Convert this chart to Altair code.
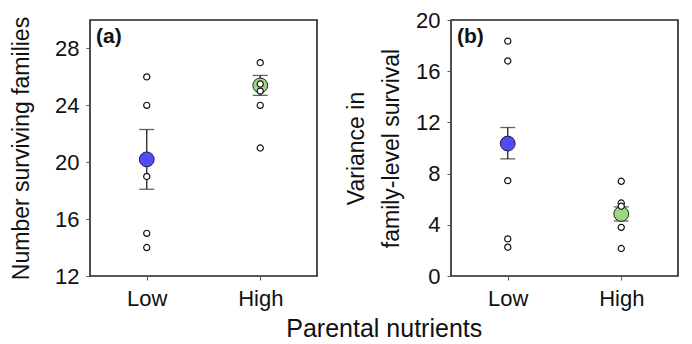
import altair as alt
import pandas as pd

groups = ["Low", "High"]

# Panel (a): number of surviving families
a_low_pts = [26, 24, 19, 15, 14]
a_high_pts = [27, 25.5, 25, 24, 21]
a_mean = [20.2, 25.4]
a_lo = [18.1, 24.7]
a_hi = [22.3, 26.1]

# Panel (b): variance in family-level survival
b_low_pts = [18.35, 16.8, 7.45, 2.9, 2.25]
b_high_pts = [7.4, 5.7, 5.45, 3.8, 2.15]
b_mean = [10.35, 4.85]
b_lo = [9.15, 4.3]
b_hi = [11.6, 5.4]

colors = ["#4d4dff", "#9bd681"]

FONT = "Liberation Sans"
W, H = 227, 256


def panel(low_pts, high_pts, mean, lo, hi, domain, ticks, ytitle, tag, title_pad, line_h):
    pts = pd.DataFrame({
        "g": ["Low"] * len(low_pts) + ["High"] * len(high_pts),
        "v": low_pts + high_pts,
    })
    summ = pd.DataFrame({"g": groups, "m": mean, "lo": lo, "hi": hi, "c": colors})
    xenc = alt.X("g:N", sort=groups, title=None,
                 scale=alt.Scale(type="point", padding=0.5),
                 axis=alt.Axis(labelAngle=0, labelFontSize=22, labelFont=FONT,
                               labelColor="#111", tickSize=4, tickColor="#555",
                               domain=False, labelPadding=8))
    yscale = alt.Scale(domain=domain, nice=False, zero=False)
    yaxis = alt.Axis(values=ticks, grid=False, domain=False, tickSize=4, tickColor="#555",
                     labelFontSize=22, labelFont=FONT, labelColor="#111", labelPadding=7,
                     title=ytitle, titleFontSize=23, titleFont=FONT, titleFontWeight="normal",
                     titleColor="#111", titlePadding=title_pad, titleLineHeight=line_h)
    base_s = alt.Chart(summ)
    rule = base_s.mark_rule(color="#222", strokeWidth=1.3).encode(
        x=xenc, y=alt.Y("lo:Q", scale=yscale, axis=yaxis), y2="hi:Q")
    cap_lo = base_s.mark_tick(color="#222", size=15, thickness=1.3).encode(
        x=alt.X("g:N", sort=groups), y=alt.Y("lo:Q"))
    cap_hi = base_s.mark_tick(color="#222", size=15, thickness=1.3).encode(
        x=alt.X("g:N", sort=groups), y=alt.Y("hi:Q"))
    mean_pt = base_s.mark_point(filled=True, size=220, stroke="#222", strokeWidth=1,
                                opacity=1).encode(
        x=alt.X("g:N", sort=groups), y=alt.Y("m:Q"),
        fill=alt.Fill("c:N", scale=None))
    small = alt.Chart(pts).mark_point(shape="circle", size=38, fill="white", stroke="#111",
                                      strokeWidth=1.2, opacity=1, filled=False).encode(
        x=alt.X("g:N", sort=groups), y=alt.Y("v:Q"))
    label = alt.Chart(pd.DataFrame({"t": [tag]})).mark_text(
        font=FONT, fontSize=21, fontWeight="bold", align="left", baseline="middle",
        color="#111").encode(x=alt.value(6), y=alt.value(17), text="t:N")
    return alt.layer(rule, cap_lo, cap_hi, mean_pt, small, label).properties(width=W, height=H)


pa = panel(a_low_pts, a_high_pts, a_mean, a_lo, a_hi, [12, 30], [12, 16, 20, 24, 28],
           "Number surviving families", "(a)", 21, 28)
pb = panel(b_low_pts, b_high_pts, b_mean, b_lo, b_hi, [0, 20], [0, 4, 8, 12, 16, 20],
           ["Variance in", "family-level survival"], "(b)", 12, 35)

chart = alt.hconcat(pa, pb, spacing=26).properties(
    title=alt.TitleParams("Parental nutrients", orient="bottom", anchor="middle",
                          fontSize=25, font=FONT, fontWeight="normal", color="#111",
                          offset=7, dx=40),
    padding={"left": 1, "top": 0, "right": 0, "bottom": 0},
    background="white",
).configure_view(stroke="#222", strokeWidth=1.6)

chart.save("out.html", embed_options={"renderer": "svg", "actions": False})
